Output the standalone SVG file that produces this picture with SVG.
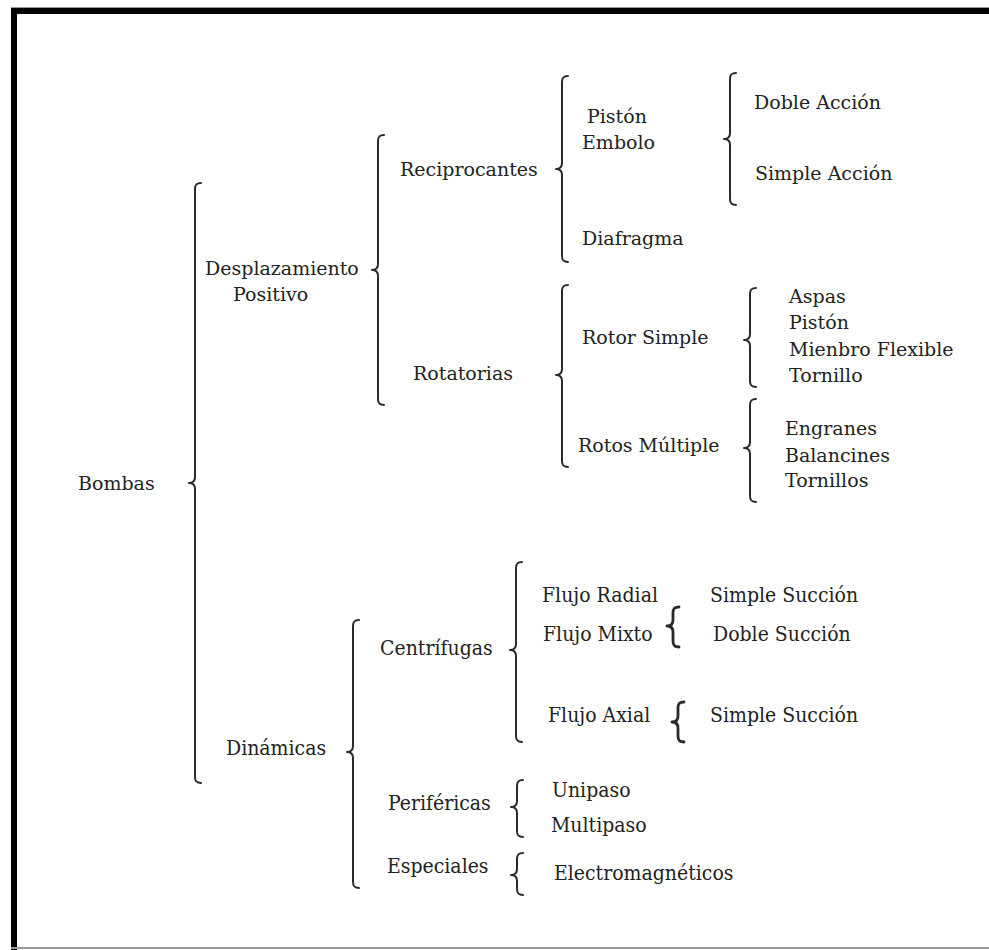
<svg xmlns="http://www.w3.org/2000/svg" width="989" height="950" viewBox="0 0 989 950">
<style>
.t{font-family:'DejaVu Serif','Liberation Serif',serif;font-size:19px;fill:#222}
.c{font-stretch:condensed;font-size:21px}
.br{fill:none;stroke:#2a2a2a;stroke-width:2;stroke-linecap:round;stroke-linejoin:round}
.bh{stroke-width:2.8}
</style>
<rect x="0" y="0" width="989" height="950" fill="#fff"/>
<g id="frame">
<rect x="11" y="7" width="978" height="1" fill="#999"/>
<rect x="11" y="8" width="978" height="6" fill="#000"/>
<rect x="11" y="8" width="6" height="942" fill="#000"/>
<rect x="11" y="947" width="978" height="2" fill="#999"/>
</g>
<g id="connectors">
<path class="br" d="M201,183 C196,183 195,185 195,189 L195,477 C195,481 193,483 189,483 C193,483 195,485 195,489 L195,777 C195,781 196,783 201,783"/>
<path class="br" d="M384,135 C379,135 378,137 378,141 L378,264 C378,268 376,270 372,270 C376,270 378,272 378,276 L378,399 C378,403 379,405 384,405"/>
<path class="br" d="M568,76 C563,76 562,78 562,82 L562,163 C562,167 560,169 556,169 C560,169 562,171 562,175 L562,256 C562,260 563,262 568,262"/>
<path class="br" d="M736,73 C731,73 730,75 730,79 L730,133 C730,137 728,139 724,139 C728,139 730,141 730,145 L730,199 C730,203 731,205 736,205"/>
<path class="br" d="M568,285 C563,285 562,287 562,291 L562,369 C562,373 560,375 556,375 C560,375 562,377 562,381 L562,461 C562,465 563,467 568,467"/>
<path class="br" d="M756,288 C751,288 750,290 750,294 L750,334 C750,338 748,340 744,340 C748,340 750,342 750,346 L750,381 C750,385 751,387 756,387"/>
<path class="br" d="M756,399 C751,399 750,401 750,405 L750,442 C750,446 748,448 744,448 C748,448 750,450 750,454 L750,496 C750,500 751,502 756,502"/>
<path class="br" d="M359,620 C354,620 353,622 353,626 L353,746 C353,750 351,752 347,752 C351,752 353,754 353,758 L353,882 C353,886 354,888 359,888"/>
<path class="br" d="M522,562 C517,562 516,564 516,568 L516,644 C516,648 514,650 510,650 C514,650 516,652 516,656 L516,736 C516,740 517,742 522,742"/>
<path class="br bh" d="M679,607 C674,607 673,609 673,613 L673,620 C673,624 671,626 667,626 C671,626 673,628 673,632 L673,641 C673,645 674,647 679,647"/>
<path class="br bh" d="M684,702 C679,702 678,704 678,708 L678,716 C678,720 676,722 672,722 C676,722 678,724 678,728 L678,736 C678,740 679,742 684,742"/>
<path class="br" d="M523,780 C518,780 517,782 517,786 L517,801 C517,805 515,807 511,807 C515,807 517,809 517,813 L517,831 C517,835 518,837 523,837"/>
<path class="br" d="M523,853 C518,853 517,855 517,859 L517,869 C517,873 515,875 511,875 C515,875 517,877 517,881 L517,889 C517,893 518,895 523,895"/>
</g>
<g class="t">
<g id="bombas"><text x="78" y="490">Bombas</text></g>
<g id="desplazamiento"><text x="205" y="275">Desplazamiento</text><text x="233" y="301">Positivo</text></g>
<g id="reciprocantes"><text x="400" y="176">Reciprocantes</text></g>
<g id="piston-embolo"><text x="587" y="123">Pistón</text><text x="582" y="149">Embolo</text></g>
<g id="diafragma"><text x="582" y="245">Diafragma</text></g>
<g id="doble-accion"><text x="754" y="109">Doble Acción</text></g>
<g id="simple-accion"><text x="755" y="180">Simple Acción</text></g>
<g id="rotatorias"><text x="413" y="380">Rotatorias</text></g>
<g id="rotor-simple"><text x="582" y="344">Rotor Simple</text></g>
<g id="rotor-simple-tipos"><text x="789" y="303">Aspas</text><text x="789" y="329">Pistón</text><text x="789" y="356">Mienbro Flexible</text><text x="789" y="382">Tornillo</text></g>
<g id="rotos-multiple"><text x="578" y="452">Rotos Múltiple</text></g>
<g id="rotos-multiple-tipos"><text x="785" y="435">Engranes</text><text x="785" y="462">Balancines</text><text x="785" y="487">Tornillos</text></g>
<g class="c">
<g id="dinamicas"><text x="226" y="755">Dinámicas</text></g>
<g id="centrifugas"><text x="380" y="655">Centrífugas</text></g>
<g id="flujo-radial-mixto"><text x="542" y="602">Flujo Radial</text><text x="543" y="641">Flujo Mixto</text></g>
<g id="succion-1"><text x="710" y="602">Simple Succión</text><text x="713" y="641">Doble Succión</text></g>
<g id="flujo-axial"><text x="548" y="722">Flujo Axial</text></g>
<g id="succion-2"><text x="710" y="722">Simple Succión</text></g>
<g id="perifericas"><text x="388" y="810">Periféricas</text></g>
<g id="pasos"><text x="552" y="797">Unipaso</text><text x="551" y="832">Multipaso</text></g>
<g id="especiales"><text x="387" y="873">Especiales</text></g>
<g id="electromagneticos"><text x="554" y="880">Electromagnéticos</text></g>
</g>
</g>
</svg>
